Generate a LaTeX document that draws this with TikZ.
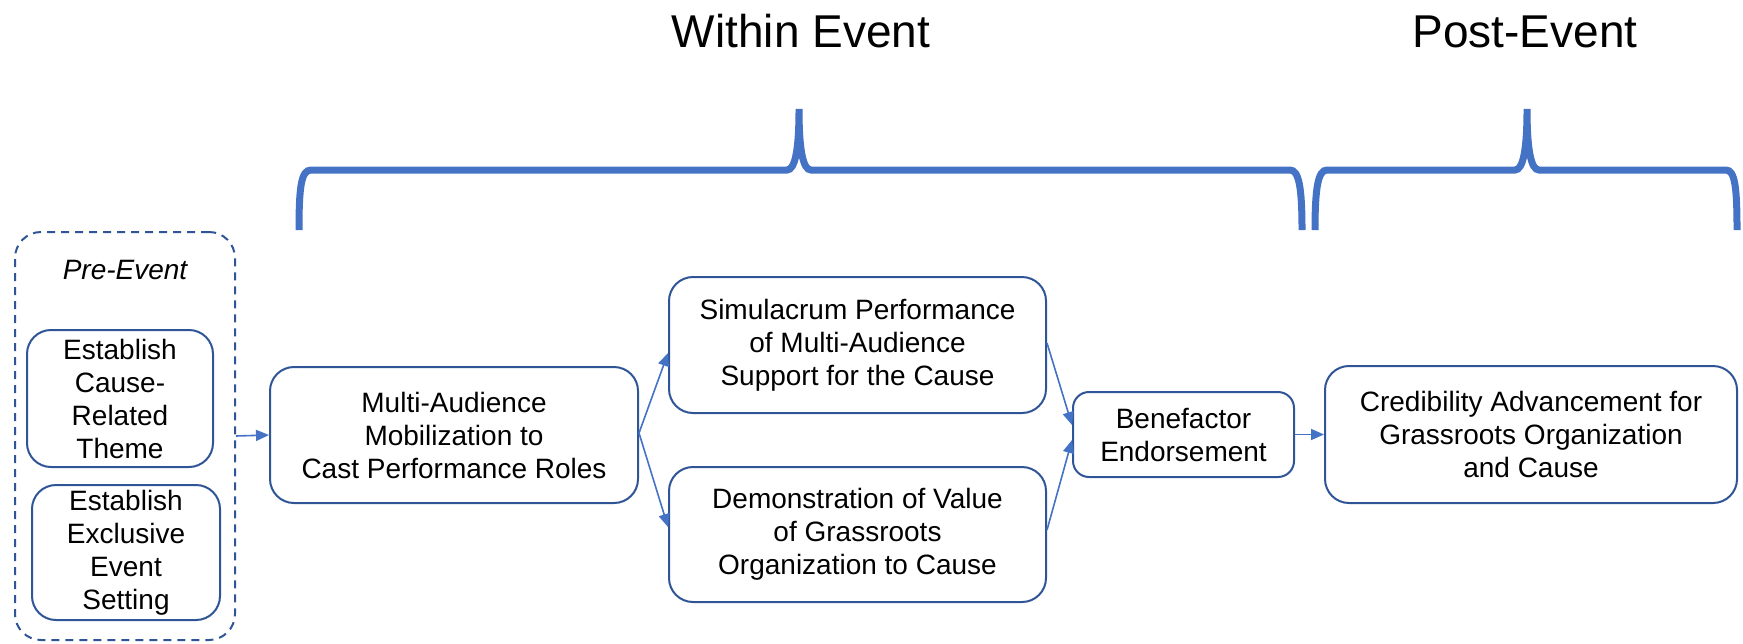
\documentclass[tikz,border=0pt]{standalone}
\usepackage{fontspec}
\setmainfont{Liberation Sans}
\usetikzlibrary{arrows.meta,calc}
\definecolor{boxblue}{HTML}{2F5597}
\definecolor{accent}{HTML}{4472C4}
\tikzset{
  stagebox/.style={draw=boxblue, line width=1pt, rounded corners=12pt, align=center,
    inner sep=0pt, font=\fontsize{14}{16.5}\selectfont, text=black},
  prebox/.style={draw=boxblue, line width=1pt, rounded corners=13pt, dash pattern=on 4pt off 3pt},
  flow/.style={draw=accent, line width=0.8pt, -{Triangle[width=5.5pt,length=6.5pt]}},
  brace/.style={draw=accent, line width=3.5pt},
  title/.style={font=\fontsize{23}{27}\selectfont, anchor=base, text=black}
}
\begin{document}
\begin{tikzpicture}[x=0.5pt,y=-0.5pt]
\useasboundingbox (0,0) rectangle (1743,643);
% titles
\node[title] (twithin) at (801,47) {Within Event};
\node[title] (tpost) at (1525,47) {Post-Event};
% braces
\draw[brace] (299,230) .. controls (299,188) and (301,170) .. (311,170) -- (787,170)
  .. controls (795,170) and (799,150) .. (799,109)
  .. controls (799,150) and (803,170) .. (811,170) -- (1290,170)
  .. controls (1299,170) and (1302,188) .. (1302,230);
\draw[brace] (1315,230) .. controls (1315,188) and (1318,170) .. (1327,170) -- (1515,170)
  .. controls (1523,170) and (1527,150) .. (1527,109)
  .. controls (1527,150) and (1531,170) .. (1539,170) -- (1726,170)
  .. controls (1735,170) and (1737,188) .. (1737,230);
% pre-event group
\node[prebox, minimum width=110pt, minimum height=204pt] (pre) at (125,436) {};
\node[font=\itshape\fontsize{14}{16.5}\selectfont] (prelabel) at (125,270) {Pre-Event};
\node[stagebox, minimum width=93pt, minimum height=68.5pt] (est1) at (120,398.5)
  {Establish\\Cause-\\Related\\Theme};
\node[stagebox, minimum width=94pt, minimum height=67.5pt] (est2) at (126,552.5)
  {Establish\\Exclusive\\Event\\Setting};
% main nodes
\node[stagebox, minimum width=184pt, minimum height=68pt] (multi) at (454,435)
  {Multi-Audience\\Mobilization to\\Cast Performance Roles};
\node[stagebox, minimum width=188.5pt, minimum height=68pt] (sim) at (857.5,345)
  {Simulacrum Performance\\of Multi-Audience\\Support for the Cause};
\node[stagebox, minimum width=188.5pt, minimum height=67.5pt] (demo) at (857.5,534.5)
  {Demonstration of Value\\of Grassroots\\Organization to Cause};
\node[stagebox, rounded corners=8pt, minimum width=110.5pt, minimum height=42.5pt] (bene) at (1183.5,434.5)
  {Benefactor\\Endorsement};
\node[stagebox, minimum width=206pt, minimum height=68.5pt] (cred) at (1531,434.5)
  {Credibility Advancement for\\Grassroots Organization\\and Cause};
% connectors
\draw[flow] (pre.east) -- (multi.west);
\draw[flow] ([yshift=1pt]multi.east) -- ([yshift=-4pt]sim.west);
\draw[flow] ([yshift=1pt]multi.east) -- ([yshift=3.75pt]demo.west);
\draw[flow] ([yshift=1pt]sim.east) -- ([yshift=4.75pt]bene.west);
\draw[flow] ([yshift=2.25pt]demo.east) -- ([yshift=-2.75pt]bene.west);
\draw[flow] (bene.east) -- (cred.west);
\end{tikzpicture}
\end{document}
